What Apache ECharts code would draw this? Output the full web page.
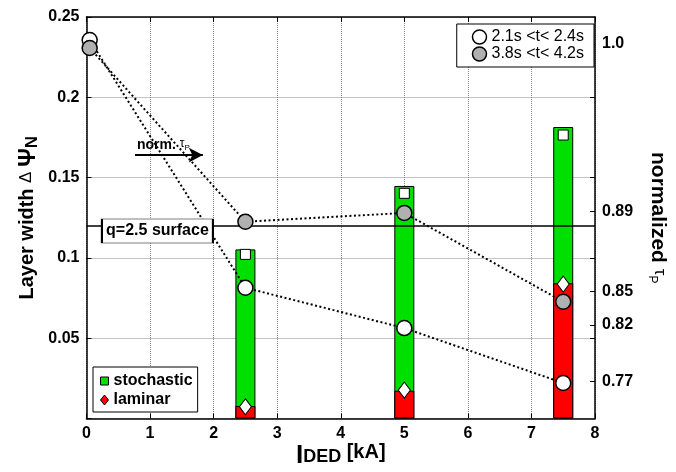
<!DOCTYPE html>
<html>
<head>
<meta charset="utf-8">
<script src="https://cdn.jsdelivr.net/npm/echarts@6/dist/echarts.min.js"></script>
<style>html,body{margin:0;padding:0;background:#fff}#c{width:676px;height:472px}</style>
</head>
<body>
<div id="c"></div>
<script>
// ---- data ----
const barX = [2.5, 5, 7.5];                    // I_DED [kA]
const stochasticTop = [0.1053, 0.1448, 0.1815]; // green bar tops
const laminarTop = [0.0078, 0.0173, 0.0842];    // red bar tops
const stochasticMark = [0.1022, 0.1402, 0.1765];// white squares
const laminarMark = [0.0073, 0.0177, 0.0837];   // white diamonds
const tauX = [0.05, 2.5, 5, 7.5];
const tauEarly = [0.2357, 0.0814, 0.0563, 0.0221]; // 2.1s<t<2.4s (left-axis units)
const tauLate = [0.2307, 0.1225, 0.1280, 0.0727];  // 3.8s<t<4.2s
const qSurface = 0.1167;
const qLabelX = 1.116;
const arrowY = 0.164, arrowX0 = 0.763, arrowX1 = 1.83;
const rightTickPos = [0.2332, 0.1288, 0.0790, 0.0582, 0.0229];
const rightTickLabels = ['1.0', '0.89', '0.85', '0.82', '0.77'];
const leftTicks = [0.05, 0.1, 0.15, 0.2];
const earlyName = '2.1s <t< 2.4s';
const lateName = '3.8s <t< 4.2s';

const FONT = "'Liberation Sans', Arial, Helvetica, sans-serif";
const zip = (xs, ys) => xs.map((x, i) => [x, ys[i]]);

const chart = echarts.init(document.getElementById('c'), null, {renderer: 'canvas'});
const dotted = {type: 'dotted', color: '#888', width: 1};

const option = {
  animation: false,
  textStyle: {fontFamily: FONT},
  grid: {left: 86.5, right: 81, top: 17, bottom: 53.5, containLabel: false, outerBoundsMode: 'none'},
  legend: [
    {
      orient: 'vertical', right: 82, top: 24, selectedMode: false,
      backgroundColor: '#fff', borderColor: '#000', borderWidth: 1,
      padding: [5, 10, 5, 15], itemWidth: 14, itemHeight: 14, itemGap: 1, itemTextGap: 16,
      textStyle: {fontSize: 16, color: '#000', fontFamily: FONT},
      data: [
        {name: earlyName, icon: 'circle', itemStyle: {color: '#fff', borderColor: '#000', borderWidth: 1.5}},
        {name: lateName, icon: 'circle', itemStyle: {color: '#b0b0b0', borderColor: '#000', borderWidth: 1.5}}
      ]
    },
    {
      orient: 'vertical', left: 93, top: 367, selectedMode: false,
      backgroundColor: '#fff', borderColor: '#000', borderWidth: 1,
      padding: [6, 5, 4, 7], itemWidth: 8, itemHeight: 10, itemGap: 3, itemTextGap: 10,
      textStyle: {fontSize: 16, fontWeight: 'bold', color: '#000', fontFamily: FONT},
      data: [
        {name: 'stochastic', icon: 'path://M0 0H10V10H0Z', itemStyle: {color: '#00e000', borderColor: '#000', borderWidth: 1}},
        {name: 'laminar', icon: 'diamond', itemStyle: {color: '#ff0000', borderColor: '#000', borderWidth: 1}}
      ]
    }
  ],
  xAxis: [
    {
      type: 'value', min: 0, max: 8, interval: 1, position: 'bottom',
      name: '{i|I}{s|DED}{n| [kA]}', nameLocation: 'middle', nameGap: 24, nameMoveOverlap: false,
      nameTextStyle: {
        rich: {
          i: {fontSize: 26, fontWeight: 'bold', color: '#000', fontFamily: FONT, verticalAlign: 'top', lineHeight: 24},
          s: {fontSize: 18, fontWeight: 'bold', color: '#000', fontFamily: FONT, verticalAlign: 'bottom', lineHeight: 18, padding: [10, 0, 0, 0]},
          n: {fontSize: 20, fontWeight: 'bold', color: '#000', fontFamily: FONT, verticalAlign: 'top', lineHeight: 22}
        }
      },
      axisLine: {show: true, onZero: false, lineStyle: {color: '#000', width: 1.5}},
      axisTick: {show: true, inside: true, length: 5, lineStyle: {color: '#000', width: 1}},
      axisLabel: {fontSize: 16, fontWeight: 'bold', color: '#000', margin: 7, fontFamily: FONT},
      splitLine: {show: true, lineStyle: dotted}
    },
    {
      type: 'value', min: 0, max: 8, interval: 1, position: 'top',
      axisLine: {show: true, onZero: false, lineStyle: {color: '#000', width: 1.5}},
      axisTick: {show: true, inside: true, length: 5, lineStyle: {color: '#000', width: 1}},
      axisLabel: {show: false}, splitLine: {show: false}
    }
  ],
  yAxis: [
    {
      type: 'value', min: 0, max: 0.25, interval: 0.05, position: 'left',
      name: '{a|Layer width }{d|\u0394 }{p|\u03a8}{s|N}', nameLocation: 'middle', nameGap: 46, nameRotate: 90, nameMoveOverlap: false,
      nameTextStyle: {
        rich: {
          a: {fontSize: 20, fontWeight: 'bold', color: '#000', fontFamily: FONT, verticalAlign: 'top', lineHeight: 23},
          d: {fontSize: 17, color: '#000', fontFamily: FONT, verticalAlign: 'top', lineHeight: 23},
          p: {fontSize: 23, fontWeight: 'bold', color: '#000', fontFamily: FONT, verticalAlign: 'top', lineHeight: 23},
          s: {fontSize: 17, fontWeight: 'bold', color: '#000', fontFamily: FONT, verticalAlign: 'bottom', lineHeight: 17, padding: [10, 0, 0, 0]}
        }
      },
      axisLine: {show: true, onZero: false, lineStyle: {color: '#000', width: 1.5}},
      axisTick: {show: true, inside: true, length: 5, lineStyle: {color: '#000', width: 1}},
      axisLabel: {fontSize: 16, fontWeight: 'bold', color: '#000', margin: 7, fontFamily: FONT,
        formatter: v => (v === 0 ? '' : String(+v.toFixed(2)))},
      splitLine: {show: true, lineStyle: dotted}
    },
    {
      type: 'value', min: 0, max: 0.25, position: 'right',
      name: '{a|normalized }{t|\u03c4}{s|P}', nameLocation: 'middle', nameGap: 51, nameRotate: -90, nameMoveOverlap: false,
      nameTextStyle: {
        rich: {
          a: {fontSize: 21, fontWeight: 'bold', color: '#000', fontFamily: FONT, verticalAlign: 'top', lineHeight: 22},
          t: {fontSize: 17, color: '#000', fontFamily: FONT, verticalAlign: 'top', lineHeight: 22},
          s: {fontSize: 12, color: '#000', fontFamily: FONT, verticalAlign: 'bottom', lineHeight: 12, padding: [12, 0, 0, 0]}
        }
      },
      axisLine: {show: true, onZero: false, lineStyle: {color: '#000', width: 1.5}},
      axisTick: {show: true, inside: true, length: 5, lineStyle: {color: '#000', width: 1},
        customValues: leftTicks.concat(rightTickPos)},
      axisLabel: {fontSize: 16, fontWeight: 'bold', color: '#000', margin: 7, fontFamily: FONT,
        customValues: rightTickPos,
        formatter: v => {
          let best = 0, d = Infinity;
          rightTickPos.forEach((p, i) => { if (Math.abs(p - v) < d) { d = Math.abs(p - v); best = i; } });
          return rightTickLabels[best];
        }},
      splitLine: {show: false}
    }
  ],
  series: [
    {
      name: 'stochastic', type: 'bar', xAxisIndex: 0, yAxisIndex: 0, barWidth: 20, barGap: '-100%', z: 2,
      itemStyle: {color: '#00e000', borderColor: '#000', borderWidth: 1},
      data: zip(barX, stochasticTop)
    },
    {
      name: 'laminar', type: 'bar', xAxisIndex: 0, yAxisIndex: 0, barWidth: 20, barGap: '-100%', z: 3,
      itemStyle: {color: '#ff0000', borderColor: '#000', borderWidth: 1},
      data: zip(barX, laminarTop)
    },
    {
      name: 'qline', type: 'line', data: [], z: 4, silent: true,
      markLine: {
        silent: true, symbol: 'none', animation: false,
        lineStyle: {color: '#000', width: 1.5, type: 'solid'},
        label: {show: false},
        data: [{yAxis: qSurface}]
      }
    },
    {
      name: 'qlabel', type: 'scatter', z: 10, silent: true, clip: false,
      symbol: 'rect', symbolSize: [111, 24],
      itemStyle: {color: '#fff', borderColor: '#000', borderWidth: 1, opacity: 1},
      label: {show: true, position: 'inside', formatter: 'q=2.5 surface', fontSize: 16, fontWeight: 'bold', color: '#000', fontFamily: FONT},
      data: [[qLabelX, qSurface]]
    },
    {
      name: 'arrow', type: 'line', data: [], z: 6, silent: true,
      markLine: {
        silent: true, animation: false, symbol: ['none', 'arrow'], symbolSize: [11, 14],
        lineStyle: {color: '#000', width: 2, type: 'solid'},
        label: {
          show: true, position: 'insideStartTop', distance: [2, 3],
          formatter: '{n|norm. }{t|\u03c4}{s|P}',
          rich: {
            n: {fontSize: 14, fontWeight: 'bold', color: '#000', fontFamily: FONT, verticalAlign: 'top', lineHeight: 14},
            t: {fontSize: 12, color: '#000', fontFamily: FONT, verticalAlign: 'top', lineHeight: 14},
            s: {fontSize: 8, color: '#000', fontFamily: FONT, verticalAlign: 'bottom', lineHeight: 8, padding: [8, 0, 0, 0]}
          }
        },
        data: [[{coord: [arrowX0, arrowY]}, {coord: [arrowX1, arrowY]}]]
      }
    },
    {
      name: 'stochMark', type: 'scatter', z: 7, symbol: 'rect', symbolSize: 10,
      itemStyle: {color: '#fff', borderColor: '#000', borderWidth: 1, opacity: 1},
      data: zip(barX, stochasticMark)
    },
    {
      name: 'lamMark', type: 'scatter', z: 7, symbol: 'diamond', symbolSize: [12, 16],
      itemStyle: {color: '#fff', borderColor: '#000', borderWidth: 1, opacity: 1},
      data: zip(barX, laminarMark)
    },
    {
      name: earlyName, type: 'line', z: 8, clip: false,
      symbol: 'circle', symbolSize: 15,
      itemStyle: {color: '#fff', borderColor: '#000', borderWidth: 1.5},
      lineStyle: {color: '#000', width: 2, type: [2, 2.5]},
      data: zip(tauX, tauEarly)
    },
    {
      name: lateName, type: 'line', z: 9, clip: false,
      symbol: 'circle', symbolSize: 15,
      itemStyle: {color: '#b0b0b0', borderColor: '#000', borderWidth: 1.5},
      lineStyle: {color: '#000', width: 2, type: [2, 2.5]},
      data: zip(tauX, tauLate)
    }
  ]
};
chart.setOption(option);
</script>
</body>
</html>
